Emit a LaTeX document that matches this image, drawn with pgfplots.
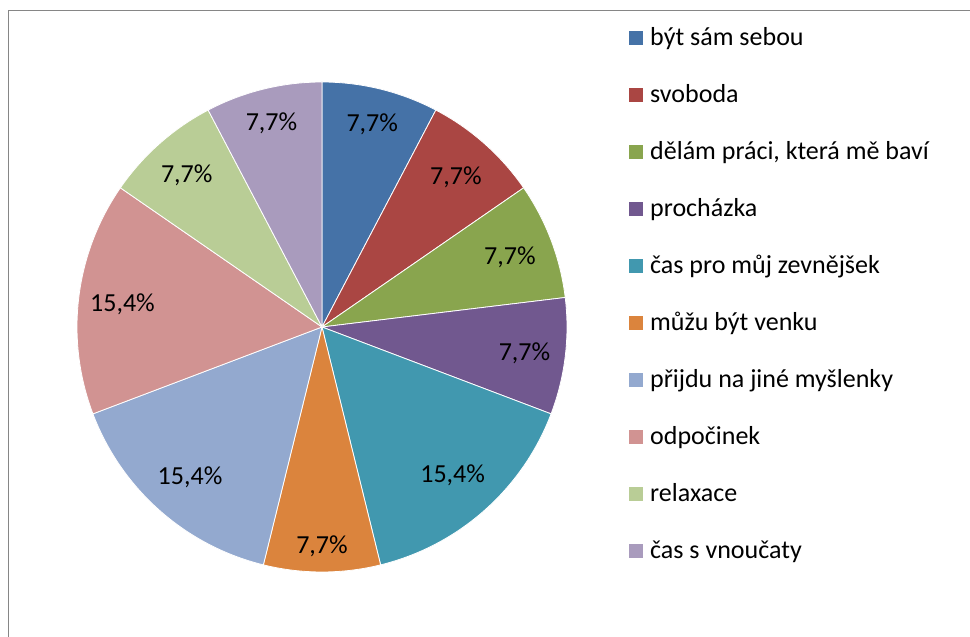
\documentclass[border=0pt]{standalone}
\usepackage{pgfplots}
\pgfplotsset{compat=1.18}
\usepackage{fontspec}
\setmainfont{Carlito}
\definecolor{c1}{HTML}{4572A7}
\definecolor{c2}{HTML}{AA4643}
\definecolor{c3}{HTML}{89A54E}
\definecolor{c4}{HTML}{71588F}
\definecolor{c5}{HTML}{4198AF}
\definecolor{c6}{HTML}{DB843D}
\definecolor{c7}{HTML}{93A9CF}
\definecolor{c8}{HTML}{D19392}
\definecolor{c9}{HTML}{B9CD96}
\definecolor{c10}{HTML}{A99BBD}
\definecolor{framegray}{RGB}{134,134,134}
\newcommand\lblfont{\fontsize{26}{31}\selectfont}
\gdef\cum{0}
\def\total{13}
\newcommand\slice[3]{%
  \pgfmathsetmacro\angA{90-360*\cum/\total}%
  \pgfmathsetmacro\cumB{\cum+#1}%
  \pgfmathsetmacro\angB{90-360*\cumB/\total}%
  \pgfmathsetmacro\angM{(\angA+\angB)/2}%
  \pgfmathsetmacro\lx{322+#3*cos(\angM)}%
  \pgfmathsetmacro\ly{310+#3*sin(\angM)-8.5}%
  \pgfmathsetmacro\pct{100*#1/\total}%
  \pgfmathprintnumberto[fixed,fixed zerofill,precision=1,use comma,assume math mode=true]{\pct}{\pcttxt}%
  \edef\tmp{\noexpand\addplot[draw=white, line width=0.8pt, fill=#2, domain=\angB:\angA, samples=80] ({322+245*cos(x)},{310+245*sin(x)}) -- (axis cs:322,310) -- cycle;}%
  \tmp
  \edef\tmp{\noexpand\node[anchor=base, font=\noexpand\lblfont, text=black] at (axis cs:\lx,\ly) {\unexpanded\expandafter{\pcttxt}\noexpand\%};}%
  \tmp
  \xdef\cum{\cumB}%
}
\begin{document}
\begin{tikzpicture}
\path[use as bounding box] (0,0) rectangle (970pt,637pt);
\begin{axis}[at={(0,0)}, anchor=south west, scale only axis, width=970pt, height=637pt,
  xmin=0, xmax=970, ymin=0, ymax=637, hide axis, clip=false]
\draw[framegray, line width=1.5pt] (axis cs:8.5,0) -- (axis cs:8.5,626.5) -- (axis cs:970,626.5);
\slice{1}{c1}{210}
\slice{1}{c2}{202}
\slice{1}{c3}{201}
\slice{1}{c4}{204}
\slice{2}{c5}{197}
\slice{1}{c6}{218}
\slice{2}{c7}{199}
\slice{2}{c8}{201}
\slice{1}{c9}{204}
\slice{1}{c10}{211}
% legend
\fill[c1]  (axis cs:629,592) rectangle (axis cs:643,606);
\fill[c2]  (axis cs:629,535) rectangle (axis cs:643,549);
\fill[c3]  (axis cs:629,478) rectangle (axis cs:643,492);
\fill[c4]  (axis cs:629,421) rectangle (axis cs:643,435);
\fill[c5]  (axis cs:629,364) rectangle (axis cs:643,378);
\fill[c6]  (axis cs:629,307) rectangle (axis cs:643,321);
\fill[c7]  (axis cs:629,250) rectangle (axis cs:643,264);
\fill[c8]  (axis cs:629,193) rectangle (axis cs:643,207);
\fill[c9]  (axis cs:629,136) rectangle (axis cs:643,150);
\fill[c10] (axis cs:629,79)  rectangle (axis cs:643,93);
\node[anchor=base west, font=\lblfont, inner sep=0pt] at (axis cs:650,591) {být sám sebou};
\node[anchor=base west, font=\lblfont, inner sep=0pt] at (axis cs:650,534) {svoboda};
\node[anchor=base west, font=\lblfont, inner sep=0pt] at (axis cs:650,477) {dělám práci, která mě baví};
\node[anchor=base west, font=\lblfont, inner sep=0pt] at (axis cs:650,420) {procházka};
\node[anchor=base west, font=\lblfont, inner sep=0pt] at (axis cs:650,363) {čas pro můj zevnějšek};
\node[anchor=base west, font=\lblfont, inner sep=0pt] at (axis cs:650,306) {můžu být venku};
\node[anchor=base west, font=\lblfont, inner sep=0pt] at (axis cs:650,249) {přijdu na jiné myšlenky};
\node[anchor=base west, font=\lblfont, inner sep=0pt] at (axis cs:650,192) {odpočinek};
\node[anchor=base west, font=\lblfont, inner sep=0pt] at (axis cs:650,135) {relaxace};
\node[anchor=base west, font=\lblfont, inner sep=0pt] at (axis cs:650,78)  {čas s vnoučaty};
\end{axis}
\end{tikzpicture}
\end{document}
